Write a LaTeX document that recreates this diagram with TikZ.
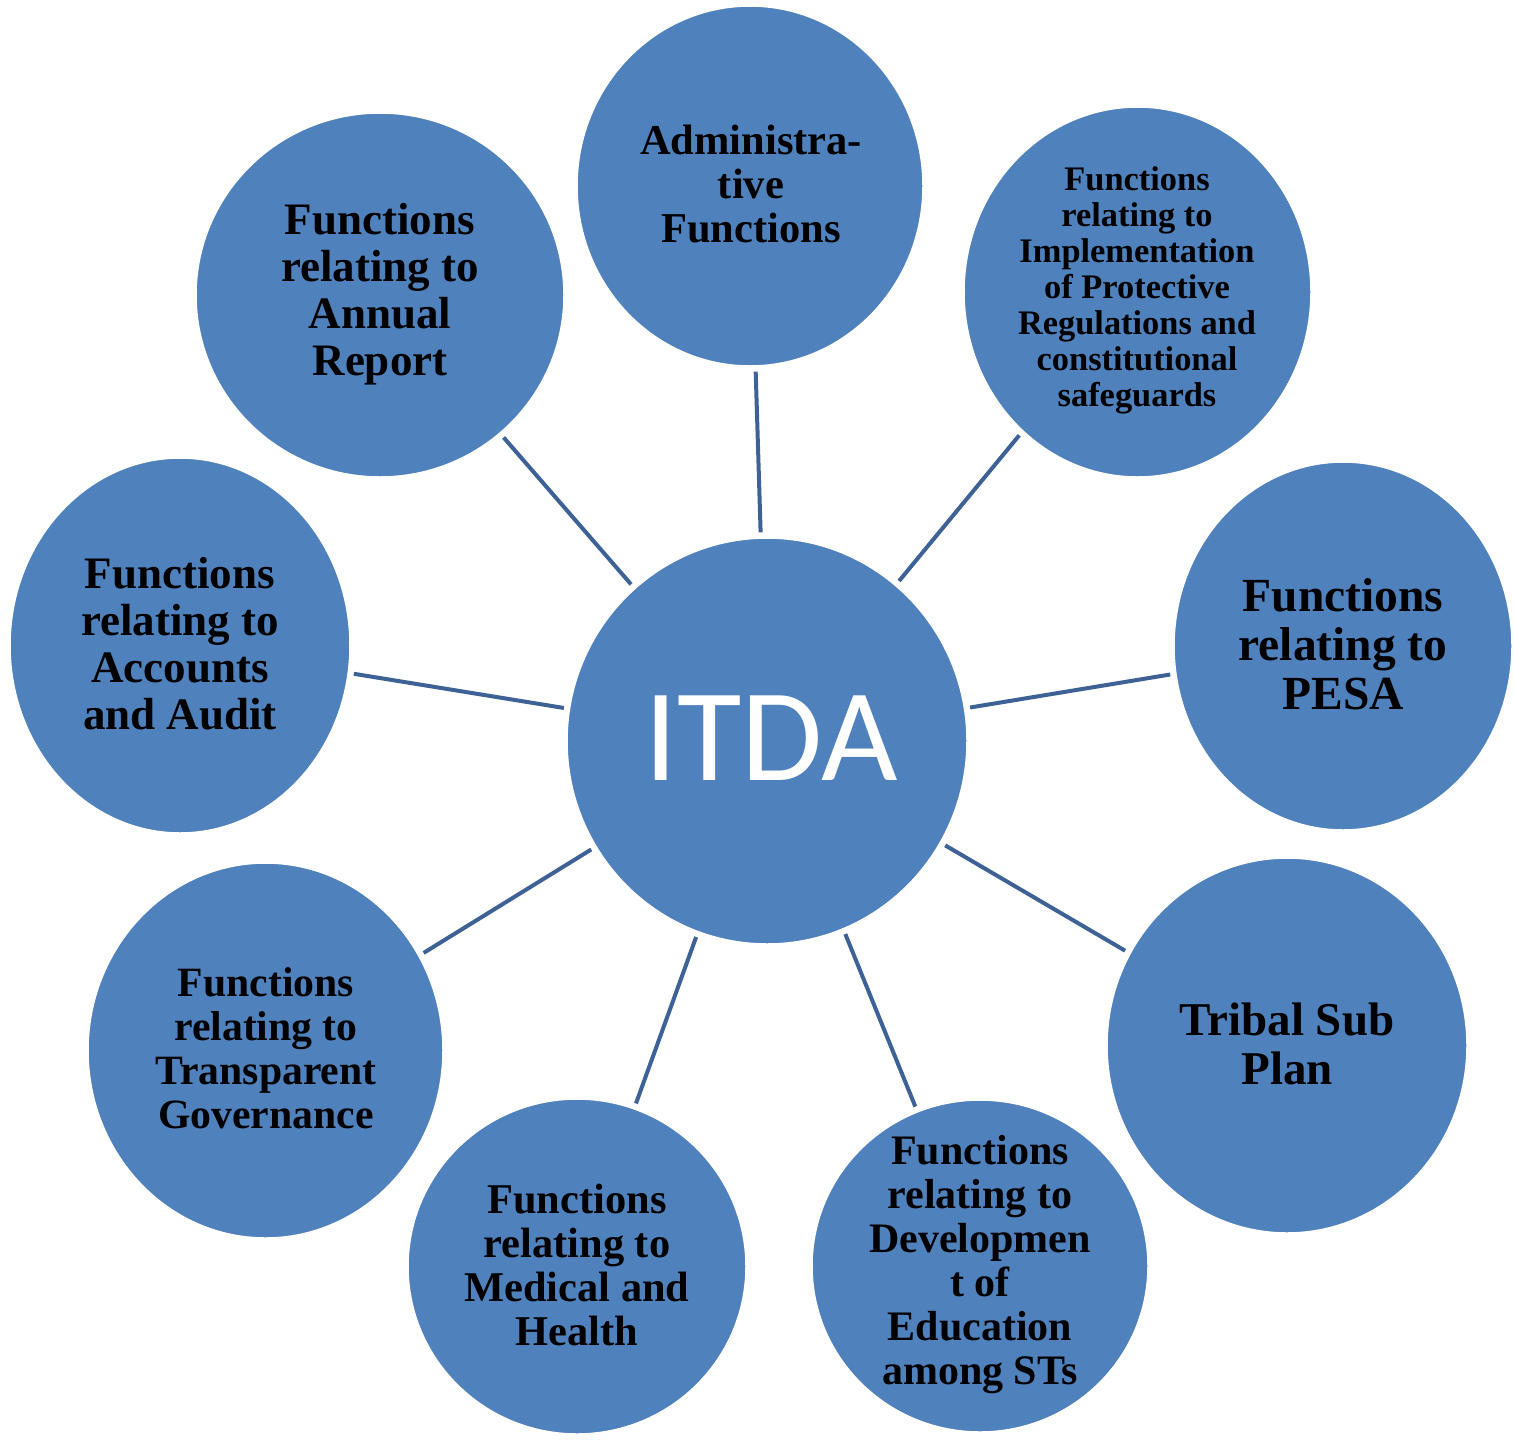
\documentclass[tikz,border=0pt]{standalone}
\usepackage{fontspec}
\setmainfont{Liberation Serif}
\newfontfamily\carlitofont{Carlito}
\usetikzlibrary{shapes.geometric}
\definecolor{bubfill}{RGB}{79,129,189}
\definecolor{linkcol}{RGB}{62,98,150}
\begin{document}
\begin{tikzpicture}[x=1pt,y=-1pt,
  bub/.style={ellipse, fill=bubfill, draw=white, line width=1.5pt, inner sep=0pt},
  bsz/.style 2 args={minimum width=#1pt, minimum height=#2pt},
  lbl/.style={align=center, inner sep=0pt, text=black},
  fs/.style 2 args={font=\fontsize{#1}{#2}\selectfont\bfseries},
  link/.style={draw=linkcol, line width=4pt, shorten <=5pt, shorten >=5pt}]
\useasboundingbox (0,0) rectangle (1514,1440);

% bubbles
\node[bub, bsz={400}{406}] (itda) at (767,741) {};
\node[bub, bsz={346}{360}] (adm) at (750,186) {};
\node[bub, bsz={347}{370}] (prot) at (1137.5,292) {};
\node[bub, bsz={338}{368}] (pesa) at (1343,646) {};
\node[bub, bsz={360}{375}] (tsp) at (1287,1045.5) {};
\node[bub, bsz={336}{332}] (edu) at (980,1266) {};
\node[bub, bsz={338}{335}] (med) at (577,1266.5) {};
\node[bub, bsz={355}{375}] (tran) at (265.5,1050.5) {};
\node[bub, bsz={340}{375}] (acc) at (180,645.5) {};
\node[bub, bsz={368}{364}] (ann) at (380,295) {};

% connectors
\draw[link] (adm) -- (itda);
\draw[link] (prot) -- (itda);
\draw[link] (pesa) -- (itda);
\draw[link] (tsp) -- (itda);
\draw[link] (edu) -- (itda);
\draw[link] (med) -- (itda);
\draw[link] (tran) -- (itda);
\draw[link] (acc) -- (itda);
\draw[link] (ann) -- (itda);

% labels
\node[lbl, text=white, font=\fontsize{132}{140}\selectfont\carlitofont] (titda) at (771,738) {ITDA};
\node[lbl, fs={42.5}{44}] (tadm) at (751,184) {Administra-\\tive\\Functions};
\node[lbl, fs={34.4}{36}] (tprot) at (1137,290) {Functions\\relating to\\Implementation\\of Protective\\Regulations and\\constitutional\\safeguards};
\node[lbl, fs={47.5}{49}] (tpesa) at (1343,644) {Functions\\relating to\\PESA};
\node[lbl, fs={47}{49}] (ttsp) at (1287,1044) {Tribal Sub\\Plan};
\node[lbl, fs={42}{44}] (tedu) at (980,1265) {Functions\\relating to\\Developmen\\t of\\Education\\among STs};
\node[lbl, fs={42.4}{44}] (tmed) at (577,1265) {Functions\\relating to\\Medical and\\Health};
\node[lbl, fs={41.7}{44}] (ttran) at (266,1048.5) {Functions\\relating to\\Transparent\\Governance};
\node[lbl, fs={45}{47}] (tacc) at (180,644) {Functions\\relating to\\Accounts\\and Audit};
\node[lbl, fs={45}{47}] (tann) at (380,294.5) {Functions\\relating to\\Annual\\Report};
\end{tikzpicture}
\end{document}
